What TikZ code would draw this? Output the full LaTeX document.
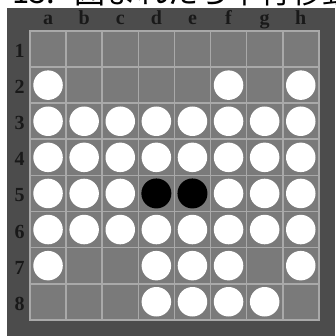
\documentclass[tikz,border=0pt]{standalone}
\usepackage{fontspec}
\setmainfont{Liberation Serif}
\newfontfamily\cjk{Noto Sans CJK JP}
\begin{document}
\begin{tikzpicture}[x=1pt,y=-1pt,
  cellbox/.style={fill=cellgray,draw=linegray,line width=1.6pt},
  wpiece/.style={circle,fill=white,inner sep=0pt,minimum size=29.5pt},
  bpiece/.style={circle,fill=black,inner sep=0pt,minimum size=30pt},
  collabel/.style={font=\fontsize{20}{20}\selectfont\bfseries,text=black!90,anchor=base},
  rowlabel/.style={font=\fontsize{20}{20}\selectfont\bfseries,text=black!90,anchor=base},
  titletext/.style={anchor=base west,inner sep=0pt,font=\cjk\fontsize{31}{31}\selectfont}]
\definecolor{cellgray}{HTML}{7A7A7A}
\definecolor{linegray}{HTML}{A9A9A9}
\definecolor{boardgray}{HTML}{4C4C4C}
\useasboundingbox (0,0) rectangle (335,336);
\clip (0,0) rectangle (335,336);
% cut-off title
\node[titletext] (titlenum) at (12,3.5) {13.};
\node[titletext] (titlejp) at (74,3.5) {囲まれたら平行移動};
% board
\fill[boardgray] (7,8) rectangle (335,336);
\def\cs{36.1}
\foreach \i in {0,...,7}{
  \foreach \j in {0,...,7}{
    \draw[cellbox] ({30+\i*\cs},{31+\j*\cs}) rectangle ({30+(\i+1)*\cs},{31+(\j+1)*\cs});
  }
}
\foreach \l [count=\i from 0] in {a,b,c,d,e,f,g,h}{
  \node[collabel] (col\l) at ({30+(\i+0.5)*\cs},25) {\l};
}
\foreach \r in {1,...,8}{
  \node[rowlabel] (row\r) at (19.5,{31+(\r-0.5)*\cs+8.5}) {\r};
}
% white pieces: column index (1-8), row (1-8)
\foreach \c/\r in {1/2,6/2,8/2,
  1/3,2/3,3/3,4/3,5/3,6/3,7/3,8/3,
  1/4,2/4,3/4,4/4,5/4,6/4,7/4,8/4,
  1/5,2/5,3/5,6/5,7/5,8/5,
  1/6,2/6,3/6,4/6,5/6,6/6,7/6,8/6,
  1/7,4/7,5/7,6/7,8/7,
  4/8,5/8,6/8,7/8}{
  \node[wpiece] (w\c\r) at ({30+(\c-0.5)*\cs},{31+(\r-0.5)*\cs}) {};
}
\foreach \c/\r in {4/5,5/5}{
  \node[bpiece] (b\c\r) at ({30+(\c-0.5)*\cs},{31+(\r-0.5)*\cs}) {};
}
\end{tikzpicture}
\end{document}
